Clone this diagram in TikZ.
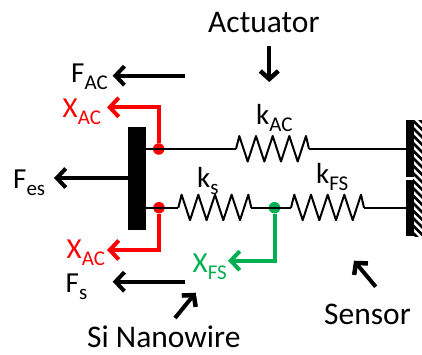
\documentclass[tikz,border=0pt]{standalone}
\usepackage{fontspec}
\setmainfont{Carlito}
\usetikzlibrary{arrows.meta}
\definecolor{wirered}{RGB}{255,0,0}
\definecolor{wiregreen}{RGB}{0,176,80}
\newcommand{\lowtext}[1]{\raisebox{-7.5pt}{\fontsize{21}{21}\selectfont #1}}
\tikzset{
	wire/.style={line width=2pt,line join=round},
	pointer/.style={line width=4pt,-{Straight Barb[length=9pt,width=19pt,line width=4pt]}},
	bigpointer/.style={pointer,-{Straight Barb[length=8pt,width=18pt,line width=4.5pt]}},
	dot/.style={circle,fill,inner sep=0pt,minimum size=11.5pt},
	lbl/.style={font=\fontsize{31.5}{32}\selectfont,inner sep=0pt,anchor=base west},
	sym/.style={font=\fontsize{29}{30}\selectfont,inner sep=0pt,anchor=base west},
	coilshape/.pic={
		\draw[wire] (0,0) -- (3.3,13) -- (11.7,-12.5) -- (20,13) -- (28.3,-12.5) -- (36.7,13) -- (45,-12.5) -- (53.3,13) -- (61.7,-12.5) -- (70,13) -- (73,0);
	}
}
\begin{document}
\begin{tikzpicture}[x=1pt,y=1pt]
		\useasboundingbox (0,0) rectangle (422,-354);

		% plate and wall
		\fill (127.7,-126.7) rectangle (145.7,-230);
		\fill (406,-120) rectangle (413.5,-176.7);
		\fill (406,-180) rectangle (413.5,-236);
		\begin{scope}
			\clip (413,-120) rectangle (422,-236);
			\foreach \y in {-112,-119.5,...,-240}
				\draw[line width=2.6pt] (412,\y) -- (424,\y-12);
		\end{scope}

		% nodes on the lines
		\node[dot,wirered] (topdot) at (158.7,-149) {};
		\node[dot,wirered] (lowdot) at (159,-207.7) {};
		\node[dot,wiregreen] (middot) at (274.5,-207.7) {};
		\coordinate (topleft) at (145.7,-149);
		\coordinate (lowleft) at (145.7,-207.7);
		\coordinate (topright) at (406,-149);
		\coordinate (lowright) at (406,-207.7);

		% springs
		\coordinate (acin) at (236,-149);
		\coordinate (acout) at (309,-149);
		\coordinate (sin) at (178.3,-207.7);
		\coordinate (sout) at (251.3,-207.7);
		\coordinate (fsin) at (291,-207.7);
		\coordinate (fsout) at (364,-207.7);
		\pic at (acin) {coilshape};
		\pic at (sin) {coilshape};
		\pic at (fsin) {coilshape};
		\draw[wire] (topleft) -- (acin);
		\draw[wire] (acout) -- (topright);
		\draw[wire] (lowleft) -- (sin);
		\draw[wire] (sout) -- (fsin);
		\draw[wire] (fsout) -- (lowright);

		% displacement arrows
		\coordinate (xacup) at (107,-107.3);
		\coordinate (xacdown) at (107,-250);
		\coordinate (xfstip) at (228,-260.7);
		\draw[pointer,wirered] (topdot) |- (xacup);
		\draw[pointer,wirered] (lowdot) |- (xacdown);
		\draw[pointer,wiregreen] (middot) |- (xfstip);

		% force arrows
		\coordinate (facstart) at (185,-75.7);
		\coordinate (factip) at (112.7,-75.7);
		\coordinate (fesstart) at (127.7,-178);
		\coordinate (festip) at (54,-178);
		\coordinate (fsstart) at (185,-281.7);
		\coordinate (fstip) at (112.7,-281.7);
		\draw[pointer] (facstart) -- (factip);
		\draw[pointer] (fesstart) -- (festip);
		\draw[pointer] (fsstart) -- (fstip);

		% labels
		\node[sym] (fac) at (71,-82) {F\lowtext{AC}};
		\node[sym,wirered] (xacu) at (62.5,-117) {X\lowtext{AC}};
		\node[sym] (fes) at (13,-188) {F\lowtext{es}};
		\node[sym,wirered] (xacd) at (66.5,-258) {X\lowtext{AC}};
		\node[sym] (fs) at (65.5,-292) {F\lowtext{s}};
		\node[sym,wiregreen] (xfs) at (192.5,-272) {X\lowtext{FS}};
		\node[sym] (kac) at (256,-124) {k\lowtext{AC}};
		\node[sym] (ks) at (197,-187) {k\lowtext{s}};
		\node[sym] (kfs) at (316,-183) {k\lowtext{FS}};
		\node[lbl] (act) at (208,-32) {Actuator};
		\node[lbl] (sen) at (324,-324) {Sensor};
		\node[lbl] (wire) at (87,-347) {Si Nanowire};

		% pointers to the labels
		\coordinate (actstart) at (269.3,-46);
		\coordinate (acttip) at (269.3,-82);
		\coordinate (senstart) at (375.7,-286.7);
		\coordinate (sentip) at (354,-260.7);
		\coordinate (wirestart) at (175,-318);
		\coordinate (wiretip) at (195.7,-292.7);
		\draw[bigpointer] (actstart) -- (acttip);
		\draw[bigpointer] (senstart) -- (sentip);
		\draw[bigpointer] (wirestart) -- (wiretip);
	\end{tikzpicture}
\end{document}
